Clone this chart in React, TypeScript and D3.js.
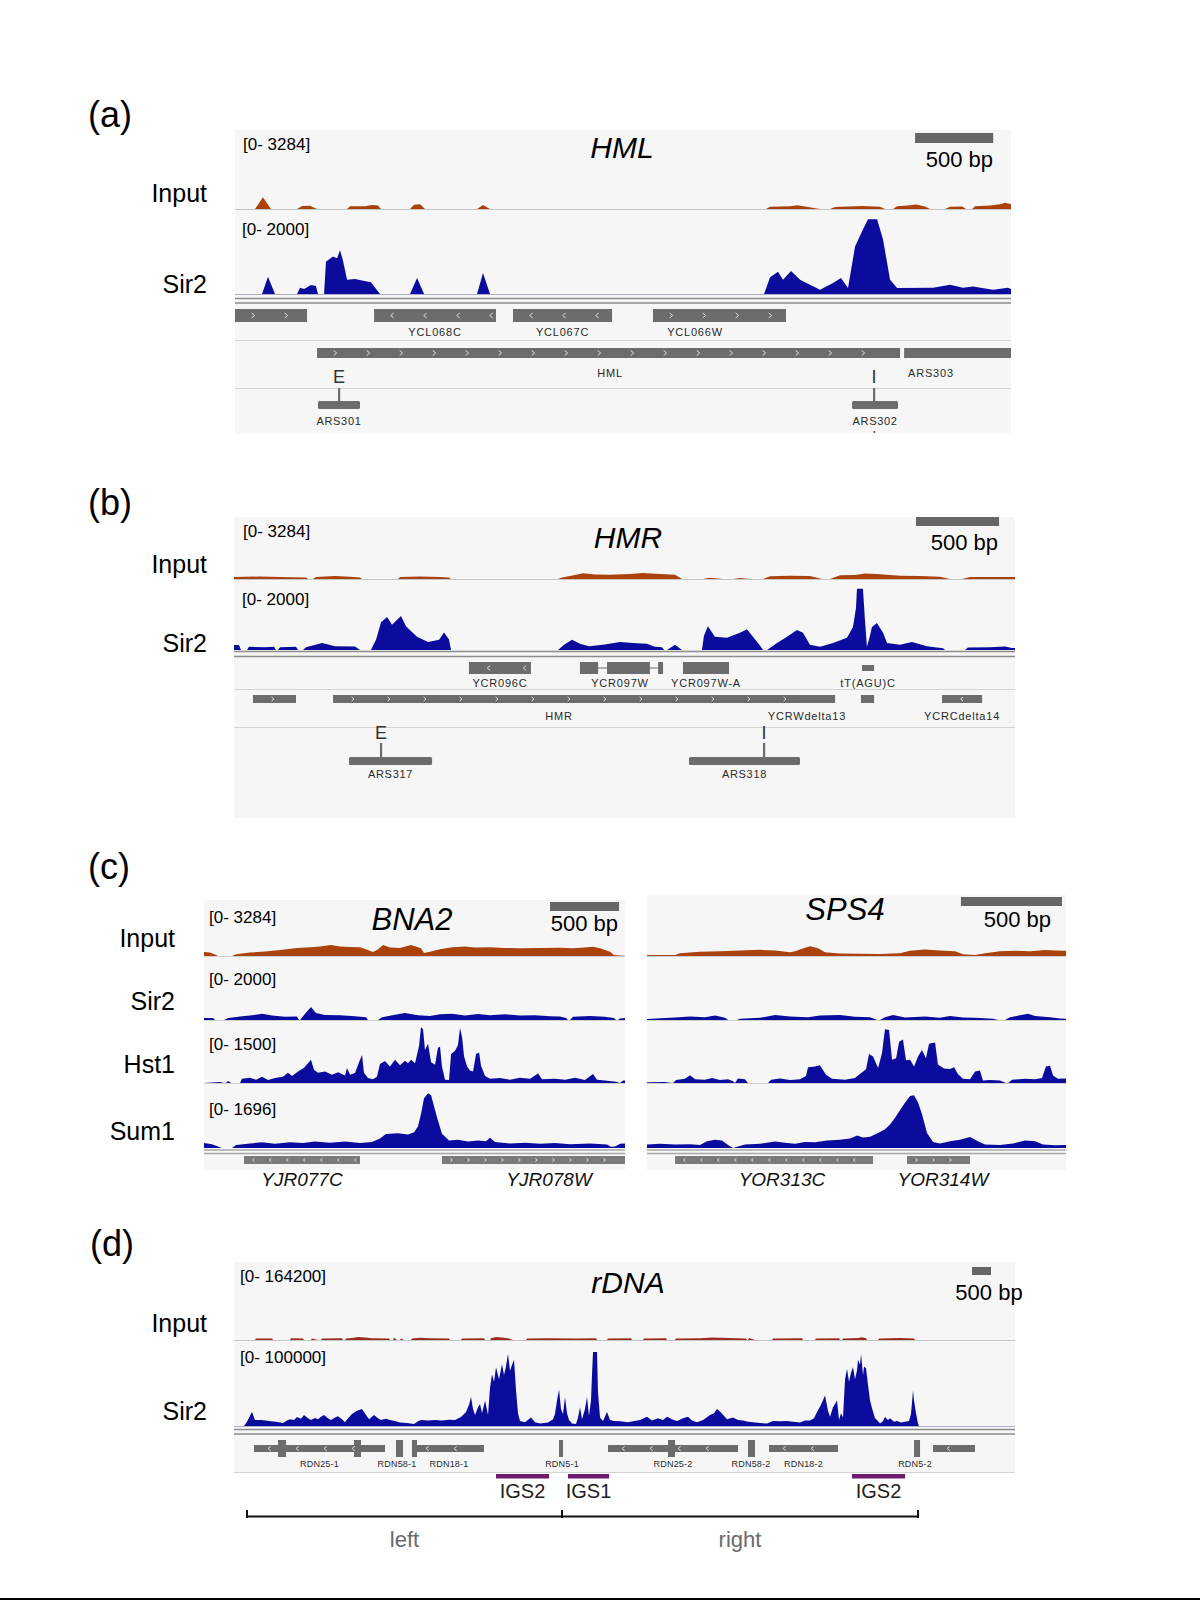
import React from 'react';
import * as d3 from 'd3';

type Pt = [number, number];
type Gene = {
  name: string; start: number; end: number; strand: string;
  label?: number; exons?: [number, number][]; blocks?: [number, number][];
  mark?: string; markAt?: number; small?: boolean;
};

// ================= DATA =================
const SCALE_BP = 500;

// ---- (a) HML (window in bp) ----
const hmlWindow: Pt = [0, 4966];
const hmlRanges = ['[0- 3284]', '[0- 2000]'];
const hmlMax = [3284, 2000];
const hmlScaleStart = 4352;
const hmlInput: Pt[] = [[128,0],[179,490],[230,0],[397,0],[429,120],[480,130],[525,0],[717,0],[736,110],[832,110],[877,170],[915,150],[934,0],[1120,0],[1146,180],[1184,200],[1216,0],[1549,0],[1587,170],[1632,0],[3398,0],[3424,90],[3552,110],[3597,160],[3648,100],[3744,0],[3808,0],[3840,80],[3968,110],[4013,120],[4128,90],[4160,0],[4211,0],[4237,110],[4320,160],[4358,190],[4416,100],[4448,0],[4544,0],[4576,90],[4653,100],[4678,0],[4717,0],[4736,110],[4832,150],[4896,200],[4928,260],[4966,200]];
const hmlSir2: Pt[] = [[173,0],[211,410],[256,0],[397,0],[416,150],[442,120],[486,215],[518,190],[531,0],[570,0],[582,770],[627,890],[653,850],[672,1040],[691,800],[717,340],[768,360],[813,320],[870,280],[928,0],[1120,0],[1165,380],[1210,0],[1549,0],[1587,500],[1632,0],[3386,0],[3424,400],[3475,530],[3507,340],[3558,550],[3616,340],[3680,220],[3744,100],[3827,260],[3878,380],[3923,140],[3968,1130],[4019,1540],[4051,1780],[4109,1780],[4147,1300],[4192,340],[4237,140],[4467,150],[4576,220],[4659,150],[4723,180],[4851,100],[4947,150],[4966,120]];
const hmlRow1: Gene[] = [
  { name: '', start: 0, end: 461, strand: '+' },
  { name: 'YCL068C', start: 890, end: 1670, strand: '-' },
  { name: 'YCL067C', start: 1779, end: 2413, strand: '-' },
  { name: 'YCL066W', start: 2675, end: 3526, strand: '+', label: 2944 },
];
const hmlRow2: Gene[] = [
  { name: 'HML', start: 525, end: 4256, strand: '+', label: 2400 },
  { name: 'ARS303', start: 4282, end: 5200, strand: '', label: 4454 },
];
const hmlArs: Gene[] = [
  { name: 'ARS301', start: 531, end: 800, strand: '', mark: 'E', markAt: 666 },
  { name: 'ARS302', start: 3949, end: 4243, strand: '', mark: 'I', markAt: 4090 },
];

// ---- (b) HMR ----
const hmrWindow: Pt = [0, 4700];
const hmrRanges = ['[0- 3284]', '[0- 2000]'];
const hmrMax = [3284, 2000];
const hmrScaleStart = 4104;
const hmrInput: Pt[] = [[0,110],[156,130],[277,110],[433,80],[445,0],[475,0],[493,110],[608,160],[698,120],[758,80],[770,0],[987,0],[999,110],[1119,130],[1240,110],[1294,80],[1306,0],[1950,0],[1974,80],[2052,210],[2100,300],[2172,240],[2263,230],[2383,260],[2461,320],[2564,260],[2654,230],[2696,0],[2822,0],[2864,70],[2942,0],[3003,0],[3045,50],[3105,0],[3184,0],[3226,150],[3346,170],[3466,160],[3539,0],[3587,0],[3647,200],[3737,210],[3797,290],[3869,270],[4008,170],[4128,160],[4249,120],[4309,0],[4381,0],[4429,100],[4550,110],[4700,100]];
const hmrSir2: Pt[] = [[0,140],[30,140],[42,0],[78,0],[90,90],[187,80],[241,90],[253,0],[265,0],[277,80],[373,90],[385,0],[415,0],[433,80],[530,200],[608,110],[728,100],[758,0],[824,0],[855,300],[885,790],[921,940],[951,720],[1005,970],[1035,680],[1101,380],[1168,230],[1234,290],[1264,500],[1294,300],[1306,0],[1950,0],[1986,150],[2034,290],[2082,180],[2136,110],[2221,150],[2323,230],[2401,200],[2485,180],[2533,90],[2576,80],[2588,0],[2606,0],[2654,150],[2696,0],[2816,0],[2828,400],[2852,680],[2894,380],[2967,350],[3045,490],[3087,590],[3123,380],[3166,120],[3184,0],[3208,0],[3268,200],[3328,380],[3388,570],[3424,490],[3466,150],[3527,90],[3605,200],[3689,350],[3725,660],[3743,1200],[3749,1750],[3785,1750],[3797,860],[3809,90],[3827,400],[3839,660],[3869,770],[3906,490],[3930,200],[4008,150],[4080,230],[4170,110],[4267,50],[4279,0],[4399,0],[4417,70],[4550,80],[4640,100],[4682,60],[4700,60]];
const hmrRow1: Gene[] = [
  { name: 'YCR096C', start: 1414, end: 1787, strand: '-' },
  { name: 'YCR097W', start: 2082, end: 2582, strand: '', exons: [[2082, 2191], [2245, 2503], [2552, 2582]], label: 2323 },
  { name: 'YCR097W-A', start: 2702, end: 2979, strand: '' },
  { name: 'tT(AGU)C', start: 3779, end: 3852, strand: '', small: true },
];
const hmrRow2: Gene[] = [
  { name: '', start: 114, end: 373, strand: '+' },
  { name: 'HMR', start: 596, end: 3617, strand: '+', label: 1956 },
  { name: 'YCRWdelta13', start: 3400, end: 3617, strand: '', label: 3448 },
  { name: '', start: 3773, end: 3852, strand: '' },
  { name: 'YCRCdelta14', start: 4261, end: 4502, strand: '-' },
];
const hmrArs: Gene[] = [
  { name: 'ARS317', start: 692, end: 1192, strand: '', mark: 'E', markAt: 885 },
  { name: 'ARS318', start: 2738, end: 3406, strand: '', mark: 'I', markAt: 3190 },
];

// ---- (c) shared ----
const cTrackNames = ['Input', 'Sir2', 'Hst1', 'Sum1'];
const cRanges = ['[0- 3284]', '[0- 2000]', '[0- 1500]', '[0- 1696]'];
const cMax = [3284, 2000, 1500, 1696];

// (c) BNA2
const bnaWindow: Pt = [0, 3050];
const bnaScaleStart = 2507;
const bnaInput: Pt[] = [[0,240],[43,200],[87,60],[101,0],[203,0],[232,100],[333,200],[442,260],[551,350],[674,470],[768,520],[840,560],[920,640],[985,550],[1058,530],[1130,520],[1174,400],[1224,230],[1261,400],[1297,640],[1347,500],[1420,470],[1500,640],[1572,450],[1594,180],[1637,250],[1710,400],[1797,520],[1891,560],[1963,500],[2072,520],[2174,470],[2289,450],[2434,470],[2579,480],[2673,450],[2760,500],[2818,540],[2869,460],[2942,250],[2970,60],[3014,30],[3050,20]];
const bnaSir2: Pt[] = [[0,60],[65,60],[80,0],[145,0],[174,60],[261,110],[348,150],[420,200],[493,140],[587,100],[674,110],[688,0],[696,0],[732,200],[775,410],[811,220],[877,160],[985,150],[1072,130],[1174,90],[1188,0],[1261,0],[1290,90],[1384,170],[1456,220],[1550,150],[1637,130],[1710,180],[1797,200],[1891,140],[1985,190],[2072,150],[2181,180],[2289,140],[2398,150],[2507,120],[2579,110],[2623,60],[2637,0],[2652,0],[2673,100],[2797,130],[2905,100],[2970,60],[2985,0],[2999,0],[3014,50],[3050,60]];
const bnaHst1: Pt[] = [[0,0],[116,25],[145,0],[159,0],[174,50],[196,0],[261,0],[275,100],[333,130],[377,80],[420,150],[464,70],[514,120],[572,150],[608,250],[638,170],[681,280],[725,370],[775,560],[797,320],[826,250],[877,280],[927,200],[971,260],[1022,180],[1036,360],[1058,200],[1094,240],[1123,500],[1145,680],[1159,250],[1188,120],[1224,90],[1253,150],[1275,460],[1311,530],[1347,400],[1384,560],[1420,430],[1456,540],[1478,480],[1500,560],[1529,480],[1558,900],[1572,1350],[1587,1300],[1601,800],[1623,950],[1645,500],[1674,440],[1695,850],[1710,880],[1724,400],[1746,80],[1775,70],[1790,700],[1819,780],[1840,920],[1855,1330],[1870,1100],[1884,650],[1906,400],[1927,300],[1949,280],[1971,700],[1993,740],[2007,420],[2036,170],[2072,100],[2145,120],[2217,80],[2289,130],[2362,100],[2420,230],[2449,90],[2543,100],[2616,80],[2688,130],[2760,70],[2818,220],[2847,80],[2905,60],[2985,30],[3014,0],[3036,60],[3050,60]];
const bnaSum1: Pt[] = [[0,130],[58,100],[101,40],[130,0],[203,0],[232,80],[333,120],[420,150],[514,110],[623,150],[717,130],[804,170],[913,140],[1022,170],[1130,130],[1217,160],[1275,250],[1318,370],[1405,390],[1478,360],[1522,420],[1550,570],[1572,900],[1594,1320],[1623,1450],[1645,1400],[1667,1100],[1689,800],[1724,380],[1775,200],[1840,220],[1913,170],[1985,200],[2043,180],[2072,270],[2109,160],[2217,120],[2326,140],[2434,110],[2543,130],[2652,100],[2797,120],[2920,90],[2949,30],[2978,40],[3014,110],[3050,120]];
const bnaGenes: Gene[] = [
  { name: 'YJR077C', start: 290, end: 1130, strand: '-' },
  { name: 'YJR078W', start: 1724, end: 3200, strand: '+', label: 2500 },
];

// (c) SPS4
const spsWindow: Pt = [0, 2074];
const spsScaleStart = 1554;
const spsInput: Pt[] = [[0,50],[139,60],[163,150],[262,230],[361,260],[460,300],[559,330],[634,300],[708,200],[733,260],[782,440],[807,520],[847,420],[881,200],[955,130],[1054,120],[1153,110],[1252,150],[1302,280],[1376,350],[1450,300],[1525,260],[1564,100],[1624,60],[1673,150],[1747,250],[1822,280],[1896,260],[1970,320],[2020,300],[2074,280]];
const spsSir2: Pt[] = [[0,30],[89,60],[139,80],[213,110],[287,90],[337,140],[386,70],[401,0],[446,0],[460,40],[559,70],[634,160],[708,110],[797,90],[856,140],[955,160],[1029,100],[1104,90],[1139,0],[1153,0],[1178,90],[1218,160],[1277,80],[1376,110],[1450,70],[1500,130],[1564,80],[1624,70],[1713,40],[1738,0],[1772,0],[1797,90],[1846,150],[1886,200],[1921,130],[1995,90],[2045,50],[2074,40]];
const spsHst1: Pt[] = [[0,20],[89,25],[124,0],[129,0],[144,70],[188,100],[213,190],[238,90],[287,80],[322,120],[361,70],[401,90],[426,40],[436,0],[450,110],[485,90],[500,0],[599,0],[614,80],[658,110],[708,70],[757,90],[787,170],[797,380],[832,400],[856,430],[886,200],[916,100],[980,80],[1029,120],[1054,220],[1084,330],[1099,700],[1119,640],[1144,360],[1163,720],[1178,1300],[1198,1280],[1213,560],[1233,600],[1248,1000],[1267,1050],[1282,550],[1302,560],[1322,400],[1342,650],[1361,800],[1381,600],[1396,950],[1426,980],[1440,450],[1470,350],[1500,340],[1520,380],[1539,220],[1564,100],[1599,90],[1624,280],[1648,300],[1663,60],[1698,70],[1747,60],[1777,0],[1787,0],[1807,80],[1871,100],[1921,90],[1955,120],[1975,400],[1995,420],[2010,180],[2034,100],[2074,110]];
const spsSum1: Pt[] = [[0,90],[64,110],[139,90],[213,100],[262,80],[297,180],[337,220],[371,200],[401,80],[426,0],[446,30],[485,90],[559,110],[634,170],[683,140],[733,110],[782,160],[832,150],[891,200],[955,220],[1005,250],[1040,330],[1069,280],[1104,300],[1144,400],[1178,500],[1203,620],[1228,800],[1252,1000],[1277,1200],[1302,1380],[1322,1400],[1342,1200],[1361,900],[1386,400],[1416,160],[1450,120],[1500,180],[1549,220],[1599,290],[1638,180],[1673,90],[1747,80],[1812,120],[1871,200],[1921,180],[1960,90],[2020,70],[2074,80]];
const spsGenes: Gene[] = [
  { name: 'YOR313C', start: 139, end: 1119, strand: '-', label: 668 },
  { name: 'YOR314W', start: 1287, end: 1599, strand: '+', label: 1465 },
];

// ---- (d) rDNA ----
const rdnWindow: Pt = [0, 20540];
const rdnRanges = ['[0- 164200]', '[0- 100000]'];
const rdnMax = [164200, 100000];
const rdnScaleStart = 19409;
const rdnInput: Pt[] = [[552,0],[579,3000],[1000,3000],[1026,0],[1473,0],[1499,3500],[1815,3000],[1841,0],[2025,0],[2051,3000],[2209,0],[2288,0],[2314,3000],[2840,3500],[2867,0],[2919,0],[2946,3000],[3156,4500],[3261,6500],[3445,5500],[3629,3500],[4077,3000],[4103,0],[4182,0],[4208,5000],[4287,0],[4366,0],[4392,3000],[4471,0],[4655,0],[4681,3000],[4892,5000],[5155,3500],[5655,3000],[5681,0],[5970,0],[5996,3000],[6575,3500],[6601,0],[6733,0],[6759,3500],[6891,6500],[7048,5500],[7206,3500],[7338,0],[7680,0],[7706,3000],[8311,3500],[8968,3000],[9521,3500],[9547,0],[9810,0],[9836,3000],[10441,3500],[10467,0],[10757,0],[10783,3000],[11362,3500],[11388,0],[11598,0],[11625,3000],[12256,3500],[12571,5500],[12782,4500],[13466,3000],[13492,0],[13518,0],[13545,4000],[13702,0],[14149,0],[14176,3000],[14938,3500],[14965,0],[15280,0],[15307,3000],[15912,3500],[15938,0],[15990,0],[16017,3000],[16412,4000],[16517,6000],[16622,3500],[16649,0],[16937,0],[16964,3000],[17516,4000],[17884,3000],[17910,0]];
const rdnSir2: Pt[] = [[263,0],[342,5000],[473,16500],[552,7000],[736,7000],[921,6000],[1105,5000],[1289,3500],[1394,6500],[1473,8000],[1578,7000],[1657,10500],[1762,8500],[1841,13000],[1946,9000],[2025,7000],[2130,9500],[2209,8000],[2288,11000],[2367,13000],[2472,9000],[2551,7000],[2656,10000],[2735,11500],[2840,8000],[2919,4500],[2998,9000],[3103,14000],[3235,18000],[3366,20000],[3472,13000],[3551,8000],[3682,13000],[3787,9000],[3866,7000],[3998,8500],[4103,7000],[4234,6000],[4366,4000],[4550,3500],[4734,2500],[4839,5500],[4918,7000],[5102,6500],[5286,7000],[5470,6500],[5655,7500],[5812,7000],[5970,10500],[6102,16500],[6181,25000],[6234,34000],[6286,20000],[6339,13000],[6418,22000],[6470,26000],[6523,15000],[6602,30000],[6681,13000],[6733,45000],[6786,61000],[6838,52000],[6891,69000],[6970,55000],[7048,73000],[7101,60000],[7154,70000],[7206,85000],[7259,65000],[7312,72000],[7364,78000],[7417,42000],[7469,15000],[7522,6000],[7653,4500],[7811,10000],[7916,4500],[8048,3000],[8258,4000],[8390,8000],[8442,14000],[8495,30000],[8548,43000],[8600,20000],[8653,14000],[8705,34000],[8758,15000],[8811,7000],[8889,3000],[8995,2500],[9047,10000],[9100,22000],[9152,8000],[9231,20000],[9284,34000],[9336,12000],[9389,30000],[9415,60000],[9442,87000],[9547,87000],[9573,40000],[9626,10000],[9705,6000],[9810,16500],[9889,7000],[9994,6000],[10152,5500],[10362,4500],[10494,5500],[10678,7000],[10862,11000],[10993,6500],[11151,9000],[11282,7000],[11388,11000],[11519,8000],[11650,6000],[11808,9000],[11940,11000],[12045,6500],[12177,4500],[12335,7000],[12519,13000],[12624,15000],[12703,20000],[12808,16000],[12966,8000],[13124,10000],[13255,7000],[13387,6500],[13518,5000],[13650,4500],[13834,3500],[14018,3000],[14176,6000],[14360,5500],[14544,6000],[14702,5000],[14886,4000],[15017,6500],[15149,6500],[15254,9000],[15307,14000],[15438,25000],[15543,36000],[15622,18000],[15675,11000],[15754,22000],[15807,26000],[15859,30000],[15912,7000],[15964,15000],[16017,10000],[16070,55000],[16122,67000],[16175,52000],[16228,63000],[16280,69000],[16333,55000],[16386,66000],[16412,78000],[16464,72000],[16491,85000],[16543,60000],[16570,70000],[16622,68000],[16675,48000],[16727,30000],[16780,21000],[16859,9000],[16911,7000],[16990,3000],[17069,6000],[17121,10500],[17200,7000],[17253,9000],[17358,5000],[17437,6000],[17542,4000],[17647,5000],[17752,6000],[17805,14000],[17858,42000],[17884,30000],[17936,15000],[17989,3000],[18016,0]];
const rdnGenes: Gene[] = [
  { name: 'RDN25-1', start: 526, end: 3971, strand: '-', blocks: [[1157, 1368], [3156, 3340]] },
  { name: 'RDN58-1', start: 4261, end: 4445, strand: '', blocks: [[4261, 4445]], label: 4287 },
  { name: 'RDN18-1', start: 4681, end: 6575, strand: '-', blocks: [[4681, 4813]], label: 5655 },
  { name: 'RDN5-1', start: 8548, end: 8653, strand: '', blocks: [[8548, 8653]], label: 8626 },
  { name: 'RDN25-2', start: 9836, end: 13255, strand: '-', blocks: [[11414, 11598]], label: 11546 },
  { name: 'RDN58-2', start: 13518, end: 13702, strand: '', blocks: [[13518, 13702]], label: 13597 },
  { name: 'RDN18-2', start: 14071, end: 15885, strand: '-' },
  { name: 'RDN5-2', start: 17884, end: 18042, strand: '', blocks: [[17884, 18042]], label: 17910 },
  { name: '', start: 18384, end: 19488, strand: '-' },
];
const igsRegions: { name: string; start: number; end: number }[] = [
  { name: 'IGS2', start: 6891, end: 8285 },
  { name: 'IGS1', start: 8784, end: 9863 },
  { name: 'IGS2', start: 16253, end: 17647 },
];
const bracketTicks = [342, 8626, 17989];
const bracketLabels = ['left', 'right'];

// ================= STYLE =================
const FONT = 'Arial, "Liberation Sans", Helvetica, sans-serif';
const BG = '#f6f6f6';
const INPUT = '#ab420c';
const INPUT_D = '#9c2b1f';
const BLUE = '#0b0c9e';
const GENE = '#6c6c6c';
const SEP = '#d4d4d4';
const DBL = '#8c8c8c';

type Scale = d3.ScaleLinear<number, number>;

function Signal({ data, x, top, base, max, color }: { data: Pt[]; x: Scale; top: number; base: number; max: number; color: string }) {
  const y = d3.scaleLinear().domain([0, max]).range([base, top]).clamp(true);
  const area = d3.area<Pt>().x(d => x(d[0])).y0(base).y1(d => y(d[1]));
  return <path d={area(data) || ''} fill={color} />;
}

function HLine({ x1, x2, y, color = SEP, w = 1 }: { x1: number; x2: number; y: number; color?: string; w?: number }) {
  return <line x1={x1} x2={x2} y1={y} y2={y} stroke={color} strokeWidth={w} />;
}

function chevron(ax: number, cy: number, strand: string, s: number) {
  const d = strand === '+' ? 1 : -1;
  return `M${ax - d * s * 0.6},${cy - s}L${ax + d * s * 0.6},${cy}L${ax - d * s * 0.6},${cy + s}`;
}

function GeneRow(props: {
  genes: Gene[]; x: Scale; y: number; h: number; labelY: number; fontSize: number;
  italic?: boolean; spacing?: number; color?: string; gap?: number; blockPad?: number; chev?: number; textColor?: string;
}) {
  const { genes, x, y, h, labelY, fontSize, italic, spacing = 0, color = GENE, gap = 33, blockPad = 4, chev = 2.5, textColor = '#2a2a2a' } = props;
  const [d0, d1] = x.domain();
  return (
    <g>
      {genes.map((g, i) => {
        const s = Math.max(g.start, d0), e = Math.min(g.end, d1);
        const xs = x(s), xe = x(e);
        const cy = y + h / 2;
        const els: React.ReactNode[] = [];
        if (g.exons) {
          els.push(<line key="in" x1={xs} x2={xe} y1={cy} y2={cy} stroke={color} strokeWidth={1} />);
          g.exons.forEach((ex, j) => els.push(<rect key={'ex' + j} x={x(ex[0])} y={y} width={x(ex[1]) - x(ex[0])} height={h} fill={color} />));
        } else if (g.small) {
          els.push(<rect key="r" x={xs} y={y + h * 0.25} width={xe - xs} height={h * 0.5} fill={color} />);
        } else {
          els.push(<rect key="r" x={xs} y={y} width={xe - xs} height={h} fill={color} />);
        }
        (g.blocks || []).forEach((b, j) => els.push(
          <rect key={'b' + j} x={x(b[0])} y={y - blockPad} width={Math.max(2, x(b[1]) - x(b[0]))} height={h + 2 * blockPad} fill={color} />
        ));
        if (g.strand) {
          for (let ax = xs + gap * 0.55; ax < xe - 4; ax += gap) {
            els.push(<path key={'c' + ax} d={chevron(ax, cy, g.strand, chev)} fill="none" stroke="#dedede" strokeWidth={1} />);
          }
        }
        if (g.name) {
          const lx = x(g.label !== undefined ? g.label : (s + e) / 2);
          els.push(
            <text key="t" x={lx} y={labelY} fontSize={fontSize} textAnchor="middle" fill={textColor}
              fontStyle={italic ? 'italic' : 'normal'} letterSpacing={spacing}>{g.name}</text>
          );
        }
        return <g key={i}>{els}</g>;
      })}
    </g>
  );
}

function ArsRow({ genes, x, barY, barH, sepY, markY, labelY }: { genes: Gene[]; x: Scale; barY: number; barH: number; sepY: number; markY: number; labelY: number }) {
  return (
    <g>
      {genes.map((g, i) => {
        const mx = x(g.markAt as number);
        return (
          <g key={i}>
            <rect x={x(g.start)} y={barY} width={x(g.end) - x(g.start)} height={barH} rx={1.5} fill={GENE} />
            <line x1={mx} x2={mx} y1={sepY} y2={barY} stroke={GENE} strokeWidth={2.2} />
            <text x={mx} y={markY} fontSize={18} textAnchor="middle" fill="#333">{g.mark}</text>
            <text x={x((g.start + g.end) / 2)} y={labelY} fontSize={11} textAnchor="middle" fill="#2a2a2a" letterSpacing={0.7}>{g.name}</text>
          </g>
        );
      })}
    </g>
  );
}

function ScaleBar({ x, start, y, h }: { x: Scale; start: number; y: number; h: number }) {
  return <rect x={x(start)} y={y} width={x(start + SCALE_BP) - x(start)} height={h} fill="#666" />;
}

function PanelA() {
  const X0 = 235, X1 = 1011;
  const x = d3.scaleLinear().domain(hmlWindow).range([X0, X1]).clamp(true);
  return (
    <g>
      <text x={88} y={127} fontSize={36}>(a)</text>
      <rect x={X0} y={130} width={X1 - X0} height={303} fill={BG} />
      <text x={243} y={150} fontSize={17}>{hmlRanges[0]}</text>
      <text x={622} y={158} fontSize={30} fontStyle="italic" textAnchor="middle">HML</text>
      <ScaleBar x={x} start={hmlScaleStart} y={133} h={10} />
      <text x={993} y={167} fontSize={22} textAnchor="end">500 bp</text>
      <text x={207} y={202} fontSize={25} textAnchor="end">Input</text>
      <Signal data={hmlInput} x={x} top={130} base={209} max={hmlMax[0]} color={INPUT} />
      <HLine x1={X0} x2={X1} y={209.5} color="#c4c4c4" />
      <text x={242} y={235} fontSize={17}>{hmlRanges[1]}</text>
      <text x={207} y={293} fontSize={25} textAnchor="end">Sir2</text>
      <Signal data={hmlSir2} x={x} top={210} base={294} max={hmlMax[1]} color={BLUE} />
      <HLine x1={X0} x2={X1} y={294.5} color="#aab0cc" />
      <HLine x1={X0} x2={X1} y={298.5} color={DBL} w={1.6} />
      <HLine x1={X0} x2={X1} y={303} color={DBL} w={1.6} />
      <GeneRow genes={hmlRow1} x={x} y={309} h={13} labelY={336} fontSize={11} spacing={0.8} />
      <HLine x1={X0} x2={X1} y={340.5} />
      <GeneRow genes={hmlRow2} x={x} y={348} h={10} labelY={377} fontSize={11} spacing={0.8} />
      <HLine x1={X0} x2={X1} y={388.5} />
      <ArsRow genes={hmlArs} x={x} barY={401} barH={8} sepY={388} markY={383} labelY={425} />
      <rect x={x(4090) - 0.5} y={431} width={1.5} height={2} fill="#555" />
    </g>
  );
}

function PanelB() {
  const X0 = 234, X1 = 1015;
  const x = d3.scaleLinear().domain(hmrWindow).range([X0, X1]).clamp(true);
  return (
    <g>
      <text x={88} y={515} fontSize={36}>(b)</text>
      <rect x={X0} y={517} width={X1 - X0} height={301} fill={BG} />
      <text x={243} y={537} fontSize={17}>{hmrRanges[0]}</text>
      <text x={628} y={548} fontSize={30} fontStyle="italic" textAnchor="middle">HMR</text>
      <ScaleBar x={x} start={hmrScaleStart} y={517} h={9} />
      <text x={998} y={550} fontSize={22} textAnchor="end">500 bp</text>
      <text x={207} y={573} fontSize={25} textAnchor="end">Input</text>
      <Signal data={hmrInput} x={x} top={517} base={579} max={hmrMax[0]} color={INPUT} />
      <HLine x1={X0} x2={X1} y={579.5} color="#c4c4c4" />
      <text x={242} y={605} fontSize={17}>{hmrRanges[1]}</text>
      <text x={207} y={652} fontSize={25} textAnchor="end">Sir2</text>
      <Signal data={hmrSir2} x={x} top={580} base={650} max={hmrMax[1]} color={BLUE} />
      <HLine x1={X0} x2={X1} y={651.5} color={DBL} w={1.6} />
      <HLine x1={X0} x2={X1} y={656.5} color={DBL} w={1.6} />
      <GeneRow genes={hmrRow1} x={x} y={662} h={12} labelY={687} fontSize={11} spacing={0.8} gap={36} />
      <HLine x1={X0} x2={X1} y={689.5} />
      <GeneRow genes={hmrRow2} x={x} y={695} h={8} labelY={720} fontSize={11} spacing={0.8} gap={36} chev={2} />
      <HLine x1={X0} x2={X1} y={727.5} />
      <ArsRow genes={hmrArs} x={x} barY={757} barH={8} sepY={743} markY={739} labelY={778} />
    </g>
  );
}

function PanelC({ X0, X1, top, window, scaleStart, title, titleX, titleY, scaleY, bpX, bpY, bpAnchor, data, genes, showLabels }: any) {
  const x = d3.scaleLinear().domain(window).range([X0, X1]).clamp(true);
  const tops = [top, 957, 1021, 1084];
  const bases = [956, 1020, 1083, 1148];
  const labelBase = [947, 1010, 1073, 1140];
  const rangeBase = [923, 985, 1050, 1115];
  return (
    <g>
      <rect x={X0} y={top} width={X1 - X0} height={1170 - top} fill={BG} />
      {data.map((d: Pt[], i: number) => (
        <g key={i}>
          {showLabels && <text x={209} y={rangeBase[i]} fontSize={17}>{cRanges[i]}</text>}
          {showLabels && <text x={175} y={labelBase[i]} fontSize={25} textAnchor="end">{cTrackNames[i]}</text>}
          <Signal data={d} x={x} top={tops[i]} base={bases[i]} max={cMax[i]} color={i === 0 ? INPUT : BLUE} />
          {i < 3 && <HLine x1={X0} x2={X1} y={bases[i] + 0.5} color="#cfcfcf" />}
        </g>
      ))}
      <text x={titleX} y={titleY} fontSize={31} fontStyle="italic" textAnchor="middle">{title}</text>
      <ScaleBar x={x} start={scaleStart} y={scaleY} h={9} />
      <text x={bpX} y={bpY} fontSize={22} textAnchor={bpAnchor}>500 bp</text>
      <HLine x1={X0} x2={X1} y={1150} color="#a8a8a8" w={1.4} />
      <HLine x1={X0} x2={X1} y={1153.5} color="#a8a8a8" w={1.4} />
      <GeneRow genes={genes} x={x} y={1156} h={8} labelY={1186} fontSize={19} italic gap={17} chev={1.6} color="#7a7a7a" textColor="#111" />
    </g>
  );
}

function PanelD() {
  const X0 = 234, X1 = 1015;
  const x = d3.scaleLinear().domain(rdnWindow).range([X0, X1]).clamp(true);
  const bY = 1516.5;
  return (
    <g>
      <text x={90} y={1256} fontSize={36}>(d)</text>
      <rect x={X0} y={1262} width={X1 - X0} height={210} fill={BG} />
      <text x={240} y={1282} fontSize={17}>{rdnRanges[0]}</text>
      <text x={628} y={1293} fontSize={30} fontStyle="italic" textAnchor="middle">rDNA</text>
      <ScaleBar x={x} start={rdnScaleStart} y={1267} h={8} />
      <text x={989} y={1300} fontSize={22} textAnchor="middle">500 bp</text>
      <text x={207} y={1332} fontSize={25} textAnchor="end">Input</text>
      <Signal data={rdnInput} x={x} top={1262} base={1340} max={rdnMax[0]} color={INPUT_D} />
      <HLine x1={X0} x2={X1} y={1340.5} color="#c4c4c4" />
      <text x={240} y={1363} fontSize={17}>{rdnRanges[1]}</text>
      <text x={207} y={1420} fontSize={25} textAnchor="end">Sir2</text>
      <Signal data={rdnSir2} x={x} top={1341} base={1426} max={rdnMax[1]} color={BLUE} />
      <HLine x1={X0} x2={X1} y={1426.5} color="#aab0cc" />
      <HLine x1={X0} x2={X1} y={1429.5} color={DBL} w={1.6} />
      <HLine x1={X0} x2={X1} y={1434} color={DBL} w={1.6} />
      <GeneRow genes={rdnGenes} x={x} y={1445} h={7} labelY={1467} fontSize={9} spacing={0.2} gap={28} blockPad={5} chev={2.2} />
      <HLine x1={X0} x2={X1} y={1472.5} />
      {igsRegions.map((r, i) => (
        <g key={i}>
          <rect x={x(r.start)} y={1474} width={x(r.end) - x(r.start)} height={4.5} fill="#6e1a6e" />
          <text x={x((r.start + r.end) / 2)} y={1498} fontSize={20} textAnchor="middle" fill="#222">{r.name}</text>
        </g>
      ))}
      <line x1={x(bracketTicks[0])} x2={x(bracketTicks[2])} y1={bY} y2={bY} stroke="#111" strokeWidth={2} />
      {bracketTicks.map((t, i) => (
        <line key={i} x1={x(t)} x2={x(t)} y1={1510} y2={1518} stroke="#111" strokeWidth={2} />
      ))}
      {bracketLabels.map((l, i) => (
        <text key={l} x={x((bracketTicks[i] + bracketTicks[i + 1]) / 2)} y={1547} fontSize={22} textAnchor="middle" fill="#6a6a6a">{l}</text>
      ))}
    </g>
  );
}

export default function App() {
  return (
    <svg width={1200} height={1600} style={{ position: 'absolute', left: 0, top: 0 }} fontFamily={FONT}>
      <rect width={1200} height={1600} fill="#fff" />
      <PanelA />
      <PanelB />
      <text x={88} y={879} fontSize={36}>(c)</text>
      <PanelC X0={204} X1={625} top={900} window={bnaWindow} scaleStart={bnaScaleStart} title="BNA2" titleX={412} titleY={930}
        scaleY={902} bpX={618} bpY={931} bpAnchor="end" data={[bnaInput, bnaSir2, bnaHst1, bnaSum1]} genes={bnaGenes} showLabels />
      <PanelC X0={647} X1={1066} top={895} window={spsWindow} scaleStart={spsScaleStart} title="SPS4" titleX={845} titleY={920}
        scaleY={897} bpX={1051} bpY={927} bpAnchor="end" data={[spsInput, spsSir2, spsHst1, spsSum1]} genes={spsGenes} showLabels={false} />
      <PanelD />
      <rect x={0} y={1598} width={1200} height={2} fill="#000" />
    </svg>
  );
}
